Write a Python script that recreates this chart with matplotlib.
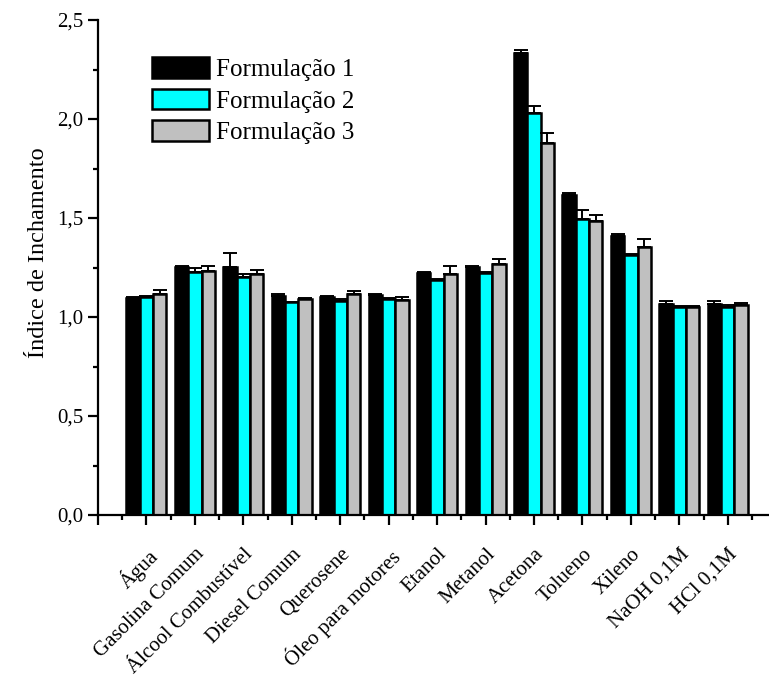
import numpy as np
import matplotlib
matplotlib.use("Agg")
import matplotlib.pyplot as plt
from matplotlib.ticker import FixedLocator, FuncFormatter, MultipleLocator

plt.rcParams['font.family'] = ['Liberation Serif', 'DejaVu Serif']

categorias = ['Água', 'Gasolina Comum', 'Álcool Combustível', 'Diesel Comum',
              'Querosene', 'Óleo para motores', 'Etanol', 'Metanol', 'Acetona',
              'Tolueno', 'Xileno', 'NaOH 0,1M', 'HCl 0,1M']

form1 = [1.097, 1.254, 1.252, 1.104, 1.101, 1.111, 1.222, 1.252, 2.335, 1.616, 1.409, 1.066, 1.066]
form2 = [1.100, 1.229, 1.204, 1.074, 1.082, 1.091, 1.185, 1.222, 2.032, 1.493, 1.313, 1.052, 1.052]
form3 = [1.116, 1.234, 1.217, 1.089, 1.118, 1.088, 1.216, 1.266, 1.880, 1.486, 1.355, 1.052, 1.059]

err1 = [0.004, 0.005, 0.069, 0.010, 0.004, 0.005, 0.004, 0.008, 0.012, 0.012, 0.008, 0.013, 0.013]
err2 = [0.004, 0.017, 0.015, 0.003, 0.010, 0.003, 0.005, 0.003, 0.032, 0.045, 0.003, 0.003, 0.007]
err3 = [0.020, 0.025, 0.018, 0.005, 0.013, 0.012, 0.042, 0.025, 0.047, 0.027, 0.037, 0.003, 0.010]

series = [('Formulação 1', form1, err1, 'black'),
          ('Formulação 2', form2, err2, '#00ffff'),
          ('Formulação 3', form3, err3, '#c0c0c0')]

fig = plt.figure(figsize=(7.69, 6.81), dpi=100)
ax = fig.add_axes([98/769, 1 - 515/681, 671/769, 495/681])

x = np.arange(1, len(categorias) + 1)
w = 0.275
for k, (nome, vals, errs, cor) in enumerate(series):
    pos = x + (k - 1) * w
    ax.bar(pos, vals, width=w, color=cor, edgecolor='black', linewidth=1.8, label=nome, zorder=2)
    ax.errorbar(pos, vals, yerr=[np.zeros(len(errs)), errs], fmt='none', ecolor='black',
                elinewidth=1.4, capsize=5, capthick=1.4, zorder=3)

ax.set_xlim(0, 13.85)
ax.set_ylim(0, 2.5)

ax.spines['top'].set_visible(False)
ax.spines['right'].set_visible(False)
ax.spines['left'].set_linewidth(1.6)
ax.spines['bottom'].set_linewidth(1.6)

ax.xaxis.set_major_locator(FixedLocator(np.arange(0, 14)))
ax.xaxis.set_minor_locator(FixedLocator(np.arange(0.5, 14, 1)))
ax.set_xticklabels([''] + categorias, rotation=45, ha='right', va='top',
                   rotation_mode='anchor', fontsize=15.5)
ax.yaxis.set_major_locator(MultipleLocator(0.5))
ax.yaxis.set_minor_locator(MultipleLocator(0.25))
ax.yaxis.set_major_formatter(FuncFormatter(lambda v, p: f'{v:.1f}'.replace('.', ',')))
ax.tick_params(axis='both', which='major', direction='out', length=7.5, width=1.6, labelsize=15)
ax.tick_params(axis='both', which='minor', direction='out', length=3.8, width=1.6)
ax.tick_params(axis='x', which='major', pad=14)
ax.tick_params(axis='y', which='major', pad=3)

ax.set_ylabel('Índice de Inchamento', fontsize=17.5)
ax.yaxis.set_label_coords(-0.073, 0.53)

ax.legend(loc='upper left', bbox_to_anchor=(0.08, 0.925), frameon=False, fontsize=18,
          handlelength=2.3, handleheight=0.9, handletextpad=0.28, labelspacing=0.3,
          borderaxespad=0, borderpad=0)

fig.savefig('out.png', dpi=100)
